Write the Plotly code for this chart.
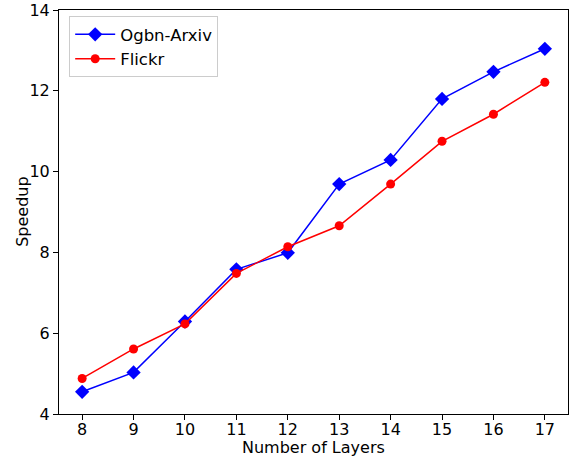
import plotly.graph_objects as go

layers = [8, 9, 10, 11, 12, 13, 14, 15, 16, 17]
ogbn_arxiv = [4.55, 5.03, 6.29, 7.58, 7.99, 9.69, 10.29, 11.80, 12.47, 13.04]
flickr = [4.88, 5.61, 6.23, 7.48, 8.14, 8.66, 9.69, 10.75, 11.42, 12.21]
y_ticks = [4, 6, 8, 10, 12, 14]

fig = go.Figure()
fig.add_trace(go.Scatter(x=layers, y=ogbn_arxiv, mode="lines+markers", name="Ogbn-Arxiv",
                         line=dict(color="blue", width=1.5),
                         marker=dict(symbol="diamond", size=11, color="blue")))
fig.add_trace(go.Scatter(x=layers, y=flickr, mode="lines+markers", name="Flickr",
                         line=dict(color="red", width=1.5),
                         marker=dict(symbol="circle", size=9, color="red")))

fig.update_layout(
    width=569, height=460,
    margin=dict(l=59, r=1, t=10, b=46, autoexpand=False),
    paper_bgcolor="white", plot_bgcolor="white",
    font=dict(family="DejaVu Sans", size=16, color="black"),
    showlegend=True,
    legend=dict(x=0.02, y=0.985, xanchor="left", yanchor="top",
                bordercolor="#cccccc", borderwidth=1, bgcolor="rgba(255,255,255,0.8)",
                font=dict(size=16.5), itemwidth=40, tracegroupgap=2),
    xaxis=dict(range=[7.55, 17.45], tickvals=layers, showgrid=False, zeroline=False,
               showline=True, linecolor="black", linewidth=1, mirror=True,
               ticks="outside", ticklen=5, tickcolor="black", automargin=False,
               ticklabelstandoff=-4),
    yaxis=dict(range=[4, 14], tickvals=y_ticks, showgrid=False, zeroline=False,
               showline=True, linecolor="black", linewidth=1, mirror=True,
               ticks="outside", ticklen=5, tickcolor="black", automargin=False),
    annotations=[
        dict(text="Number of Layers", xref="paper", yref="paper", x=0.5, y=-0.054,
             xanchor="center", yanchor="top", showarrow=False, font=dict(size=16)),
        dict(text="Speedup", xref="paper", yref="paper", x=-0.073, y=0.5,
             xanchor="center", yanchor="middle", textangle=-90, showarrow=False,
             font=dict(size=16)),
    ],
)

fig.write_html("out.html")
